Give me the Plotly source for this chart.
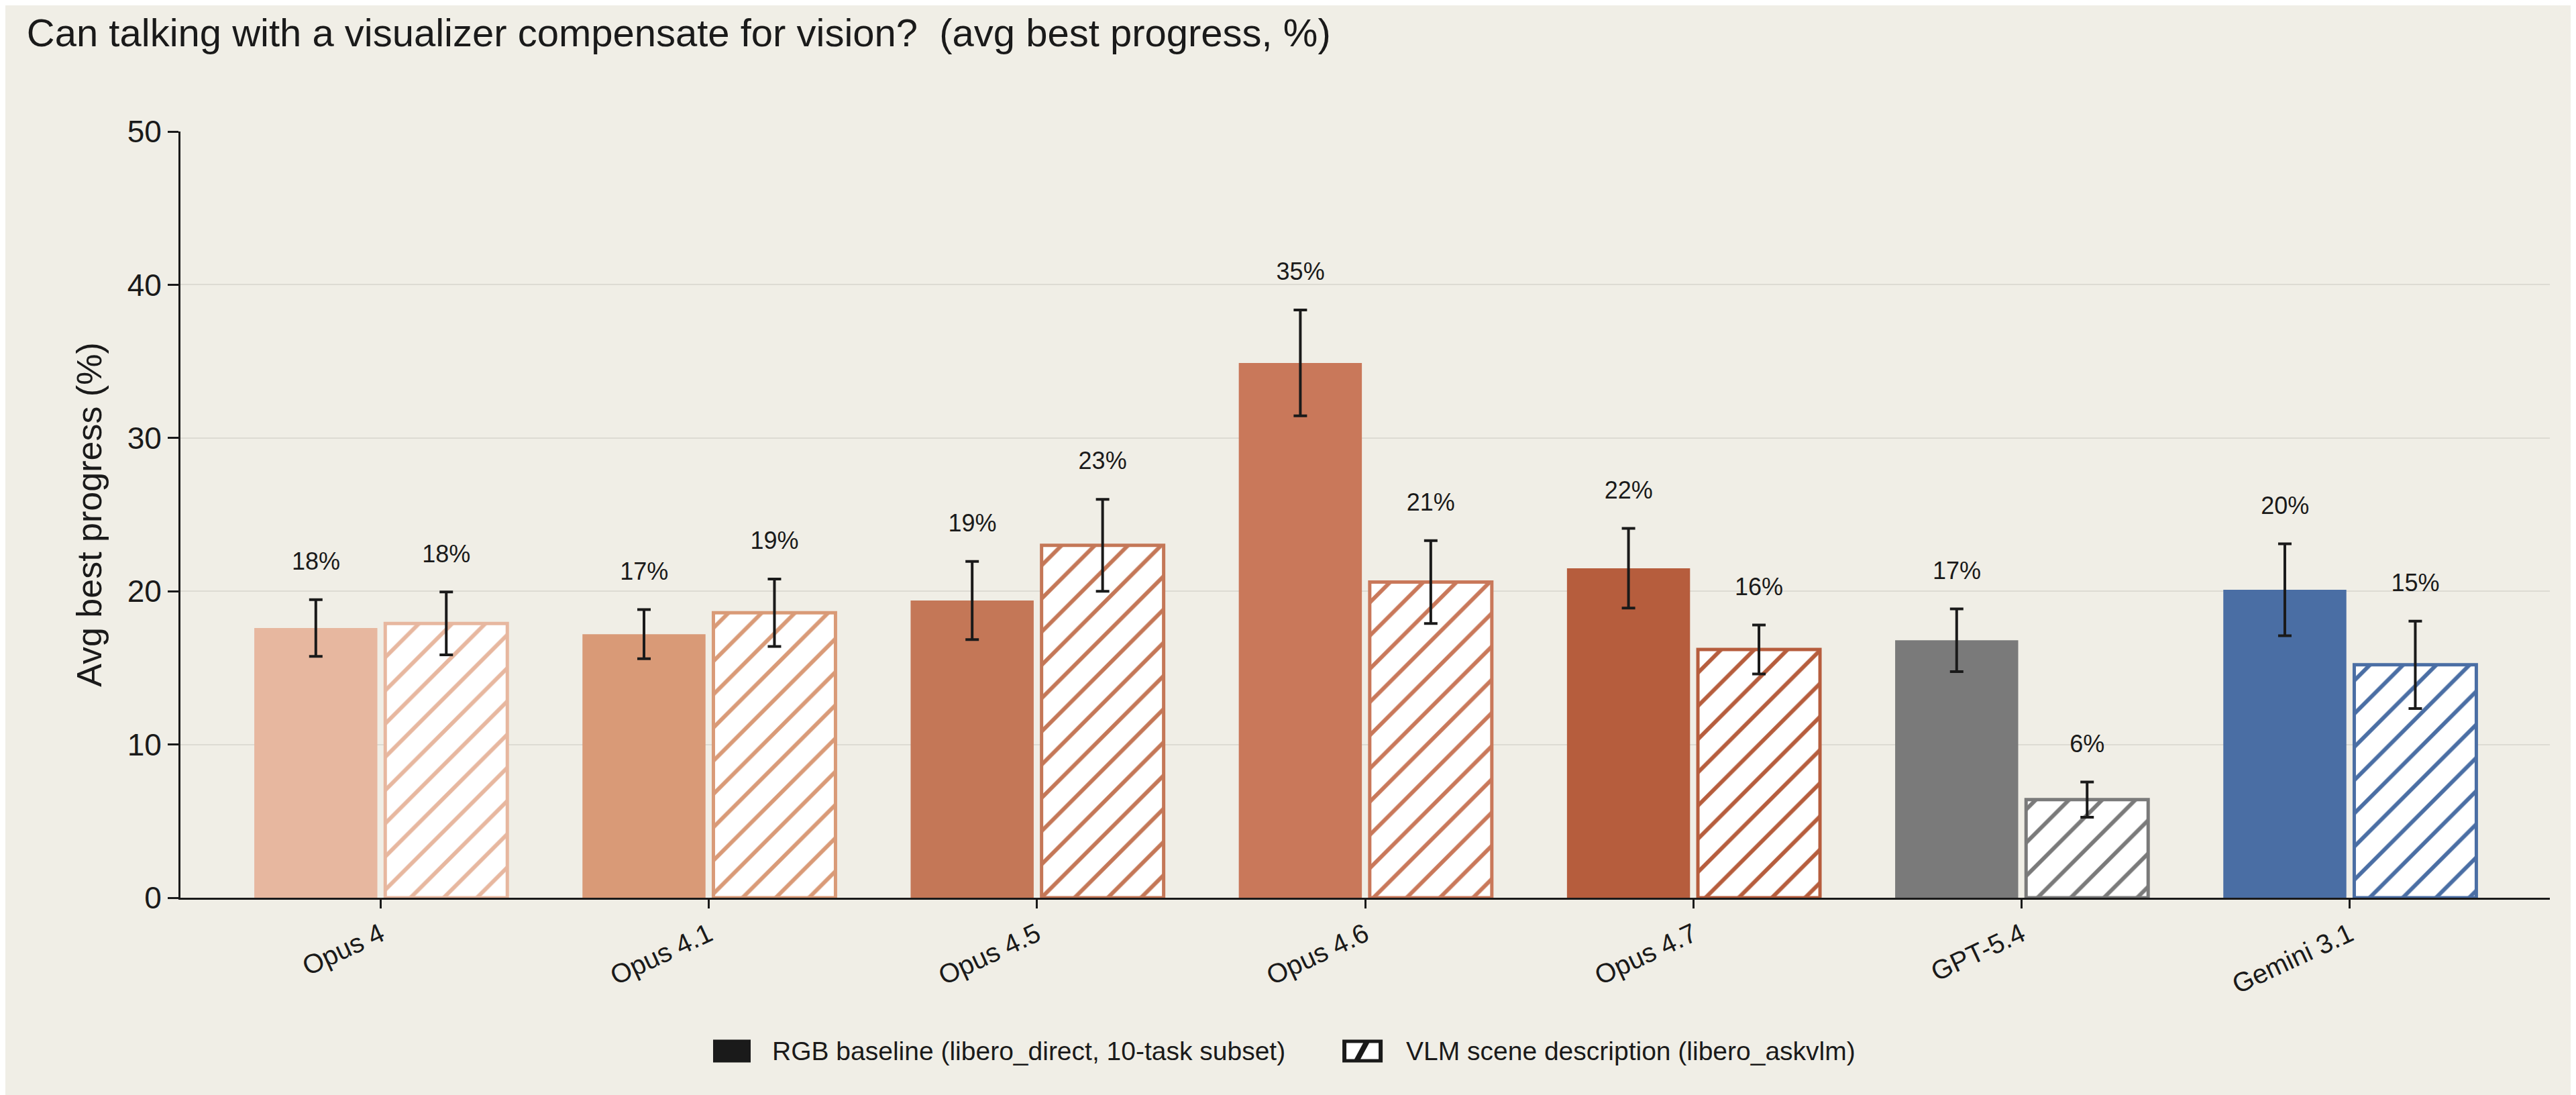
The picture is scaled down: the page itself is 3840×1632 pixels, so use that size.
import plotly.graph_objects as go

# data
MODELS = ['Opus 4', 'Opus 4.1', 'Opus 4.5', 'Opus 4.6', 'Opus 4.7', 'GPT-5.4', 'Gemini 3.1']
RGB_VALUES = [17.6, 17.2, 19.4, 34.9, 21.5, 16.8, 20.1]
RGB_ERRORS = [1.85, 1.6, 2.55, 3.45, 2.6, 2.05, 3.0]
VLM_VALUES = [17.9, 18.6, 23.0, 20.6, 16.2, 6.4, 15.2]
VLM_ERRORS = [2.05, 2.2, 3.0, 2.7, 1.6, 1.15, 2.85]
MODEL_COLORS = ['#E7B79F', '#D99A77', '#C47757', '#C9785A', '#B65D3D', '#7A7A7A', '#4A6EA4']
LEGEND_NAMES = ['RGB baseline (libero_direct, 10-task subset)', 'VLM scene description (libero_askvlm)']

BG = '#F0EEE6'
INK = '#1A1A1A'
LABEL_GAP = 2.35

idx = list(range(len(MODELS)))

fig = go.Figure()

# RGB baseline (solid)
fig.add_trace(go.Bar(
    x=idx, y=RGB_VALUES, name=LEGEND_NAMES[0],
    width=0.375, offset=-0.385,
    marker=dict(color=MODEL_COLORS, line=dict(width=0)),
    error_y=dict(type='data', array=RGB_ERRORS, color=INK, thickness=4, width=10),
    hoverinfo='skip',
))

# VLM scene description (hatched)
fig.add_trace(go.Bar(
    x=idx, y=VLM_VALUES, name=LEGEND_NAMES[1],
    width=0.372, offset=0.014,
    marker=dict(
        color='white',
        line=dict(color=MODEL_COLORS, width=5),
        pattern=dict(shape='/', fgcolor=MODEL_COLORS, bgcolor='white', fgopacity=1,
                     size=35, solidity=0.17),
    ),
    error_y=dict(type='data', array=VLM_ERRORS, color=INK, thickness=4, width=10),
    hoverinfo='skip',
))

# value labels above the error bars
fig.add_trace(go.Scatter(
    x=[i - 0.197 for i in idx],
    y=[v + e + LABEL_GAP for v, e in zip(RGB_VALUES, RGB_ERRORS)],
    text=[f'{round(v)}%' for v in RGB_VALUES],
    mode='text', textfont=dict(size=36, color=INK), hoverinfo='skip',
))
fig.add_trace(go.Scatter(
    x=[i + 0.2 for i in idx],
    y=[v + e + LABEL_GAP for v, e in zip(VLM_VALUES, VLM_ERRORS)],
    text=[f'{round(v)}%' for v in VLM_VALUES],
    mode='text', textfont=dict(size=36, color=INK), hoverinfo='skip',
))

# hand-drawn legend (plotly's bar legend icons are too small at this size)
LEG_Y = -0.2001
legend_items = [(0.2248, 56, 0.2491), (0.4904, 60, 0.5167)]
shapes = []
annotations = []
for k, (x_icon, w_icon, x_text) in enumerate(legend_items):
    shapes.append(dict(
        type='rect', xref='paper', yref='paper', layer='above',
        xsizemode='pixel', ysizemode='pixel', xanchor=x_icon, yanchor=LEG_Y,
        x0=0, x1=w_icon, y0=-17, y1=17,
        fillcolor=INK, line=dict(width=0),
    ))
    if k == 1:
        shapes.append(dict(
            type='path', xref='paper', yref='paper', layer='above',
            xsizemode='pixel', ysizemode='pixel', xanchor=x_icon, yanchor=LEG_Y,
            path='M 6,-12 L 18,-12 L 31,12 L 6,12 Z',
            fillcolor='white', line=dict(width=0),
        ))
        shapes.append(dict(
            type='path', xref='paper', yref='paper', layer='above',
            xsizemode='pixel', ysizemode='pixel', xanchor=x_icon, yanchor=LEG_Y,
            path='M 27,-12 L 54,-12 L 54,12 L 40,12 Z',
            fillcolor='white', line=dict(width=0),
        ))
    annotations.append(dict(
        text=LEGEND_NAMES[k], xref='paper', yref='paper', x=x_text, y=LEG_Y,
        xanchor='left', yanchor='middle', showarrow=False,
        font=dict(size=39, color=INK),
    ))

fig.update_layout(
    width=3840, height=1632,
    barmode='overlay', showlegend=False,
    paper_bgcolor=BG, plot_bgcolor=BG,
    font=dict(family='Liberation Sans, Arial, sans-serif', color=INK),
    margin=dict(l=261, r=47, t=188, b=302),
    title=dict(
        text='Can talking with a visualizer compensate for vision?  (avg best progress, %)',
        x=0.0083, xanchor='left', xref='container',
        y=0.975, yanchor='middle', yref='container',
        font=dict(size=58, color=INK),
    ),
    shapes=shapes,
    annotations=annotations,
)

fig.update_xaxes(
    range=[-0.61, 6.61], automargin=False,
    tickmode='array', tickvals=idx, ticktext=MODELS, tickangle=-25,
    tickfont=dict(size=40, color=INK),
    ticks='outside', ticklen=13, tickwidth=3, tickcolor=INK,
    showline=True, linecolor=INK, linewidth=3,
    showgrid=False, zeroline=False,
)
fig.update_yaxes(
    range=[0, 50], tickvals=[0, 10, 20, 30, 40, 50], automargin=False,
    tickfont=dict(size=46, color=INK),
    ticks='outside', ticklen=16, tickwidth=3, tickcolor=INK,
    showline=True, linecolor=INK, linewidth=3,
    showgrid=True, gridcolor='#DDDBD3', gridwidth=2,
    zeroline=False,
    title=dict(text='Avg best progress (%)', font=dict(size=52, color=INK), standoff=22),
)

fig.write_html('out.html')
